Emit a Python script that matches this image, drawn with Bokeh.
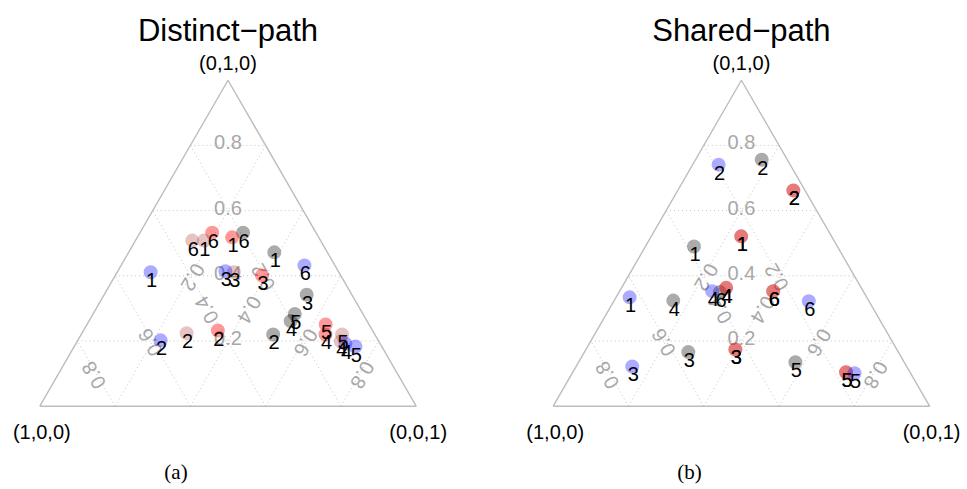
import numpy as np
from bokeh.plotting import figure
from bokeh.models import ColumnDataSource, Range1d
from bokeh.core.properties import value
from bokeh.embed import file_html
from bokeh.resources import INLINE

# ---------------- data (compositions: second and third component; first = 1 - b - c)
point_labels = ["1", "2", "3", "4", "5", "6"]
series_names = ["gray", "red", "brown", "blue"]
series_colors = {"gray": (0, 0, 0, 0.33), "red": (255, 0, 0, 0.40),
                 "brown": (165, 42, 42, 0.28), "blue": (0, 0, 255, 0.33)}

# Distinct-path panel
dist_gray_b = [0.472, 0.220, 0.342, 0.261, 0.283, 0.532]
dist_gray_c = [0.387, 0.510, 0.538, 0.536, 0.536, 0.274]
dist_red_b = [0.518, 0.232, 0.401, 0.220, 0.251, 0.532]
dist_red_c = [0.252, 0.357, 0.390, 0.649, 0.634, 0.192]
dist_brown_b = [0.508, 0.224, 0.411, 0.199, 0.220, 0.508]
dist_brown_c = [0.182, 0.278, 0.310, 0.700, 0.693, 0.151]
dist_blue_b = [0.411, 0.202, 0.414, 0.192, 0.183, 0.432]
dist_blue_c = [0.089, 0.220, 0.286, 0.716, 0.747, 0.487]

# Shared-path panel
shar_gray_b = [0.490, 0.756, 0.166, 0.324, 0.135, 0.350]
shar_gray_c = [0.129, 0.176, 0.276, 0.157, 0.576, 0.268]
shar_red_b = [0.521, 0.662, 0.174, 0.363, 0.104, 0.353]
shar_red_c = [0.239, 0.307, 0.397, 0.278, 0.726, 0.408]
shar_brown_b = [0.521, 0.662, 0.174, 0.363, 0.104, 0.353]
shar_brown_c = [0.239, 0.307, 0.397, 0.278, 0.726, 0.408]
shar_blue_b = [0.334, 0.741, 0.122, 0.353, 0.101, 0.322]
shar_blue_c = [0.036, 0.069, 0.149, 0.246, 0.750, 0.518]

grid_ticks = [0.2, 0.4, 0.6, 0.8]
tick_labels = ["0.2", "0.4", "0.6", "0.8"]
vertex_labels = ["(1,0,0)", "(0,1,0)", "(0,0,1)"]
panel_titles = ["Distinct\u2212path", "Shared\u2212path"]
panel_captions = ["(a)", "(b)"]

panels = [
    {"gray": (dist_gray_b, dist_gray_c), "red": (dist_red_b, dist_red_c),
     "brown": (dist_brown_b, dist_brown_c), "blue": (dist_blue_b, dist_blue_c)},
    {"gray": (shar_gray_b, shar_gray_c), "red": (shar_red_b, shar_red_c),
     "brown": (shar_brown_b, shar_brown_c), "blue": (shar_blue_b, shar_blue_c)},
]

# ---------------- layout (page body has no margin with Bokeh's template)
W, H = 967, 489
S = 376.4            # pixels per unit side
H3 = np.sqrt(3) / 2
x0 = -39.3 / S
y1 = 405.7 / S
panel_offsets = [0.0, (552.7 - 39.3) / S]

p = figure(width=W, height=H, output_backend="svg", toolbar_location=None,
           x_range=Range1d(x0, x0 + W / S), y_range=Range1d(y1 - H / S, y1),
           x_axis_location=None, y_axis_location=None, min_border=0,
           background_fill_color="white", border_fill_color="white")
p.grid.visible = False
p.outline_line_color = None

FONT = value("Liberation Sans")
GRIDC = "#c4c4c4"
TICKC = "#a8a8a8"


def proj(b, c, off):
    b = np.asarray(b, float)
    c = np.asarray(c, float)
    return off + c + b / 2, b * H3


for k, off in enumerate(panel_offsets):
    # grid lines
    xs, ys = [], []
    for t in grid_ticks:
        xs.append([off + t / 2, off + 1 - t / 2]); ys.append([t * H3, t * H3])
        xs.append([off + 1 - t, off + (1 - t) / 2]); ys.append([0, (1 - t) * H3])
        xs.append([off + t, off + t + (1 - t) / 2]); ys.append([0, (1 - t) * H3])
    p.multi_line(xs, ys, line_color=GRIDC, line_width=1, line_dash="1 3")
    # outline
    p.line([off, off + 1, off + 0.5, off], [0, 0, H3, 0], line_color="#bdbdbd", line_width=1.4)

    # tick labels
    d = 3.0 / S
    tx, ty, tt, ta = [], [], [], []
    for t, lab in zip(grid_ticks, tick_labels):
        tx.append(off + 0.5); ty.append(t * H3 + d); tt.append(lab); ta.append(0.0)
        th = 2 * np.pi / 3
        mx, my = 3 * (1 - t) / 4, (1 - t) * H3 / 2
        tx.append(off + mx - np.sin(th) * d); ty.append(my + np.cos(th) * d); tt.append(lab); ta.append(th)
        th = -2 * np.pi / 3
        mx, my = (1 + 3 * t) / 4, (1 - t) * H3 / 2
        tx.append(off + mx - np.sin(th) * d); ty.append(my + np.cos(th) * d); tt.append(lab); ta.append(th)
    p.text(x=tx, y=ty, text=tt, angle=ta, text_color=TICKC, text_font=FONT,
           text_font_size="20px", text_align="center", text_baseline="middle")

    # vertex labels
    p.text(x=[off + 0.5], y=[H3], text=[vertex_labels[1]], text_font=FONT, text_font_size="20px",
           text_align="center", text_baseline="middle", y_offset=-17, text_color="black")
    p.text(x=[off, off + 1], y=[0, 0], text=[vertex_labels[0], vertex_labels[2]], text_font=FONT,
           text_font_size="20px", text_align="center", text_baseline="middle",
           x_offset=2, y_offset=26, text_color="black")
    # title
    p.text(x=[off + 0.5], y=[H3], text=[panel_titles[k]], text_font=FONT, text_font_size="31px",
           text_align="center", text_baseline="alphabetic", y_offset=-50, text_color="black")
    # caption
    p.text(x=[off + 0.5], y=[0], text=[panel_captions[k]], text_font=value("Liberation Serif"),
           text_font_size="21px", text_align="center", text_baseline="middle",
           x_offset=-52, y_offset=66, text_color="black")

    # points
    lx, ly, lt = [], [], []
    for name in series_names:
        b, c = panels[k][name]
        px, py = proj(b, c, off)
        r, g, bl, a = series_colors[name]
        src = ColumnDataSource(dict(x=px, y=py, lab=point_labels))
        p.scatter("x", "y", source=src, size=14, fill_color=(r, g, bl), fill_alpha=a, line_color=None)
        lx.extend(px); ly.extend(py); lt.extend(point_labels)
    p.text(x=lx, y=ly, text=lt, text_font=FONT, text_font_size="20px", text_align="center",
           text_baseline="middle", x_offset=1, y_offset=8, text_color="black")

open("out.html", "w").write(file_html(p, INLINE))
